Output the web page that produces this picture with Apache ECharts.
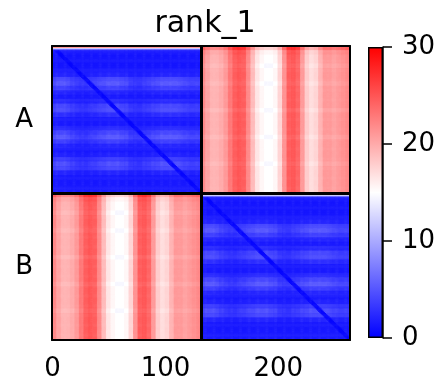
<!DOCTYPE html>
<html>
<head>
<meta charset="utf-8">
<script src="https://cdn.jsdelivr.net/npm/echarts@6/dist/echarts.min.js"></script>
<style>
  html, body { margin: 0; padding: 0; background: #fff; }
  #chart { width: 444px; height: 386px; }
</style>
</head>
<body>
<div id="chart"></div>
<script>
// matrix layout: two groups of 132 rows/cols
const groups = ['A', 'B'];
const blockSize = 132;
const binSize = 4;
const xTicks = [0, 100, 200];
const cbarTicks = [0, 10, 20, 30];

// off-diagonal blocks: level per 4-column bin (vertical stripes)
const offColLevel = [22, 20.5, 19.5, 19.5, 20, 21, 23, 24.5, 25, 24.5, 22, 19, 16.5, 15.5, 15, 15, 15.5,
                     17.5, 21.5, 24.5, 25, 24, 21, 18, 17, 17.5, 19.5, 21, 21, 20.5, 21, 21.5, 22];
// off-diagonal blocks: shift per 4-row bin (redder top edge)
const offRowShift = [2.5, 0.5, 0, 0, -0.5, 0, 0, 0, -0.5, 0, 0, 0, 0, 0, -0.5, 0, 0,
                     0, 0, 0, -0.5, 0, 0, 0, 0, 0, -0.5, 0, 0, 0, 0, 0, 0];

// diagonal blocks: first rows (red edge), base blue, light bands per 4-row bin
const diagTopRows = [27, 21, 12, 6];
const diagBase = 1.3;
const diagLine = 0.4;
const diagRowBand = [0, 0.3, 0, 0, 0, 0.3, 1, 3, 4, 2.5, 1, 0.3, 1.2, 3, 3.2, 1.5, 0.3,
                     0.3, 1.2, 3, 4, 2.5, 1, 0.3, 0.8, 2.2, 3.5, 2.8, 1, 0.2, 0.2, 0.2, 0.4];
const diagColWeight = [0.8, 1, 1, 0.9, 0.7, 0.6, 0.5, 0.5, 0.6, 0.7, 0.8, 0.9, 1, 1, 1, 0.9, 0.8,
                       0.6, 0.5, 0.5, 0.6, 0.7, 0.8, 0.9, 1, 1, 1, 1, 0.9, 0.8, 0.7, 0.7, 0.7];

const n = blockSize * groups.length;
const cats = [];
for (let i = 0; i < n; i++) cats.push(String(i));

const data = [];
for (let r = 0; r < n; r++) {
    for (let c = 0; c < n; c++) {
        const lr = r % blockSize, lc = c % blockSize;
        const rb = Math.floor(lr / binSize), cb = Math.floor(lc / binSize);
        let v;
        if (Math.floor(r / blockSize) === Math.floor(c / blockSize)) {
            if (lr < diagTopRows.length) v = diagTopRows[lr];
            else if (Math.abs(lr - lc) <= 2) v = diagLine;
            else v = diagBase + diagRowBand[rb] * diagColWeight[cb];
        } else {
            v = offColLevel[cb] + offRowShift[rb];
        }
        data.push([c, r, v]);
    }
}

const groupCenter = groups.map((g, i) => i * blockSize + blockSize / 2);
const font = 'DejaVu Sans';

const chart = echarts.init(document.getElementById('chart'));
chart.setOption({
    animation: false,
    title: {
        text: 'rank_1',
        left: 200,
        top: 4,
        textAlign: 'center',
        textStyle: { fontFamily: font, fontSize: 30, fontWeight: 'normal', color: '#000' }
    },
    grid: [
        { left: 52, top: 46, width: 298, height: 294, outerBoundsMode: 'none' },
        { left: 368, top: 47, width: 15, height: 291, outerBoundsMode: 'none' }
    ],
    visualMap: {
        show: false,
        seriesIndex: 0,
        min: 0,
        max: 30,
        inRange: { color: ['#0000ff', '#ffffff', '#ff0000'] }
    },
    xAxis: [
        {
            type: 'category', gridIndex: 0, data: cats, z: 10,
            axisLine: { lineStyle: { color: '#000', width: 2 } },
            axisTick: {
                alignWithLabel: true, length: 7,
                interval: (i) => xTicks.includes(i),
                lineStyle: { color: '#000', width: 1.5 }
            },
            axisLabel: {
                interval: (i) => xTicks.includes(i),
                margin: 16, fontFamily: font, fontSize: 26, color: '#000'
            },
            splitLine: { show: false }
        },
        {
            type: 'category', gridIndex: 0, data: cats, position: 'top', z: 10,
            axisLine: { lineStyle: { color: '#000', width: 2 } },
            axisTick: { show: false }, axisLabel: { show: false }
        },
        {
            type: 'category', gridIndex: 1, data: ['c'], show: false
        }
    ],
    yAxis: [
        {
            type: 'category', gridIndex: 0, data: cats, inverse: true, z: 10,
            axisLine: { lineStyle: { color: '#000', width: 2 } },
            axisTick: {
                alignWithLabel: true, length: 9,
                interval: (i) => groupCenter.includes(i),
                lineStyle: { color: '#000', width: 1.5 }
            },
            axisLabel: {
                interval: (i) => groupCenter.includes(i),
                formatter: (v, i) => groups[groupCenter.indexOf(i)] || '',
                margin: 19, fontFamily: font, fontSize: 26, color: '#000'
            },
            splitLine: { show: false }
        },
        {
            type: 'category', gridIndex: 0, data: cats, inverse: true, position: 'right', z: 10,
            axisLine: { lineStyle: { color: '#000', width: 2 } },
            axisTick: { show: false }, axisLabel: { show: false }
        },
        {
            type: 'value', gridIndex: 1, position: 'right', min: 0, max: 30, interval: 10, z: 10,
            axisLine: { show: true, lineStyle: { color: '#000', width: 1.5 } },
            axisTick: { show: true, length: 9, lineStyle: { color: '#000', width: 1.5 } },
            axisLabel: { margin: 19, fontFamily: font, fontSize: 26, color: '#000',
                         formatter: (v) => cbarTicks.includes(v) ? String(v) : '' },
            splitLine: { show: false }
        }
    ],
    series: [
        {
            type: 'heatmap',
            xAxisIndex: 0,
            yAxisIndex: 0,
            data: data,
            progressive: 0,
            emphasis: { disabled: true },
            markLine: {
                silent: true,
                symbol: 'none',
                label: { show: false },
                lineStyle: { color: '#000', width: 3, type: 'solid' },
                data: [{ xAxis: blockSize }, { yAxis: blockSize }]
            }
        },
        {
            type: 'bar',
            xAxisIndex: 2,
            yAxisIndex: 2,
            data: [30],
            barWidth: '100%',
            silent: true,
            itemStyle: {
                borderColor: '#000',
                borderWidth: 1.5,
                color: new echarts.graphic.LinearGradient(0, 0, 0, 1, [
                    { offset: 0, color: '#ff0000' },
                    { offset: 0.5, color: '#ffffff' },
                    { offset: 1, color: '#0000ff' }
                ])
            }
        }
    ]
});
</script>
</body>
</html>
